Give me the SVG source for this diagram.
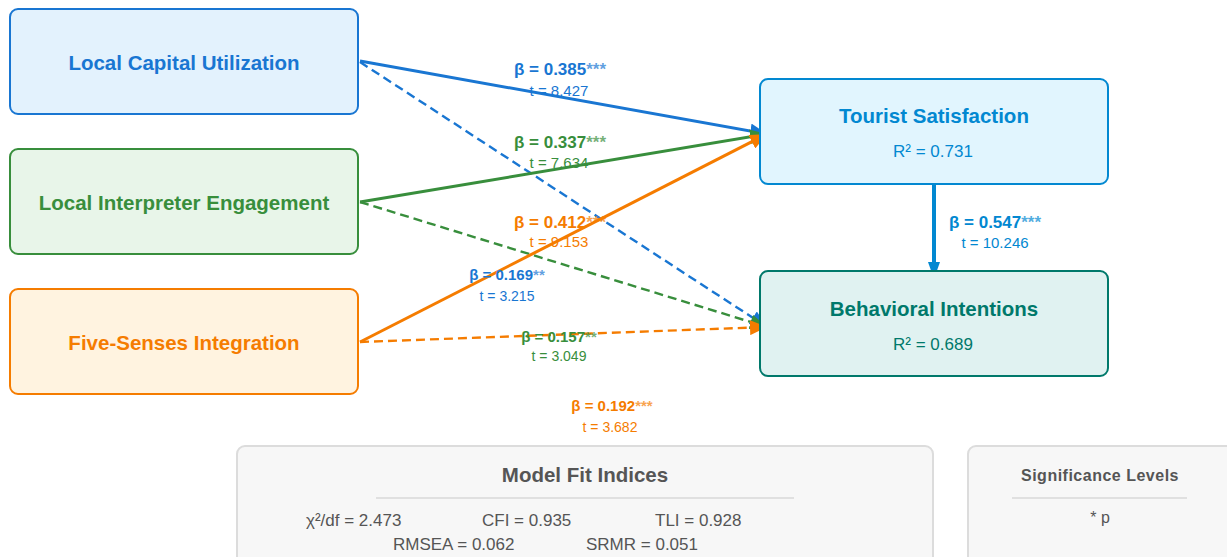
<svg xmlns="http://www.w3.org/2000/svg" width="1227" height="557" viewBox="0 0 1227 557">
<defs>
<style>
text{font-family:"Liberation Sans",Arial,Helvetica,sans-serif}
.node{stroke-width:2}
.title{font-size:20.5px;font-weight:bold;text-anchor:middle}
.r2{font-size:17px;text-anchor:middle}
.b17{font-size:17px;font-weight:bold;text-anchor:middle}
.t15{font-size:15px;text-anchor:middle}
.b15{font-size:15px;font-weight:bold;text-anchor:middle}
.t14{font-size:14px;text-anchor:middle}
.st{fill-opacity:0.7}
.solid{fill:none;stroke-width:3}
.dash{fill:none;stroke-width:2.4;stroke-dasharray:9 5}
.blue{stroke:#1976d2}.green{stroke:#388e3c}.orange{stroke:#f57c00}
.fit{font-size:17px;fill:#555}
</style>
<marker id="ab" markerUnits="userSpaceOnUse" markerWidth="17" markerHeight="15" refX="17" refY="7.5" orient="auto"><path d="M0,0 L17,7.5 L0,15 z" fill="#1976d2"/></marker>
<marker id="ag" markerUnits="userSpaceOnUse" markerWidth="17" markerHeight="15" refX="17" refY="7.5" orient="auto"><path d="M0,0 L17,7.5 L0,15 z" fill="#388e3c"/></marker>
<marker id="ao" markerUnits="userSpaceOnUse" markerWidth="17" markerHeight="15" refX="17" refY="7.5" orient="auto"><path d="M0,0 L17,7.5 L0,15 z" fill="#f57c00"/></marker>
<marker id="at" markerUnits="userSpaceOnUse" markerWidth="17" markerHeight="12" refX="17" refY="6" orient="auto"><path d="M0,0 L17,6 L0,12 z" fill="#0288d1"/></marker>
</defs>
<rect width="1227" height="557" fill="#ffffff"/>

<g id="connectors">
<line class="dash blue" x1="360" y1="62" x2="767" y2="327" marker-end="url(#ab)"/>
<line class="dash green" x1="360" y1="202" x2="767" y2="327" marker-end="url(#ag)"/>
<line class="solid blue" x1="360" y1="61" x2="767" y2="134" marker-end="url(#ab)"/>
<line class="solid green" x1="360" y1="202" x2="767" y2="134" marker-end="url(#ag)"/>
<line class="dash orange" x1="360" y1="342" x2="767" y2="327" marker-end="url(#ao)"/>
<line class="solid orange" x1="360" y1="342" x2="767" y2="134" marker-end="url(#ao)"/>
<line x1="934" y1="185" x2="934" y2="279" stroke="#0288d1" stroke-width="4" marker-end="url(#at)"/>
</g>

<g id="labels">
<text class="b17" x="560" y="75" fill="#1976d2">β = 0.385<tspan class="st">***</tspan></text>
<text class="t15" x="559" y="96" fill="#1976d2">t = 8.427</text>
<text class="b17" x="560" y="148" fill="#388e3c">β = 0.337<tspan class="st">***</tspan></text>
<text class="t15" x="559" y="168" fill="#388e3c">t = 7.634</text>
<text class="b17" x="560" y="228" fill="#f57c00">β = 0.412<tspan class="st">***</tspan></text>
<text class="t15" x="559" y="247" fill="#f57c00">t = 9.153</text>
<text class="b15" x="507" y="280" fill="#1976d2">β = 0.169<tspan class="st">**</tspan></text>
<text class="t14" x="507" y="301" fill="#1976d2">t = 3.215</text>
<text class="b15" x="559" y="342" fill="#388e3c">β = 0.157<tspan class="st">**</tspan></text>
<text class="t14" x="559" y="361" fill="#388e3c">t = 3.049</text>
<text class="b15" x="612" y="411" fill="#f57c00">β = 0.192<tspan class="st">***</tspan></text>
<text class="t14" x="610" y="432" fill="#f57c00">t = 3.682</text>
<text class="b17" x="995" y="228" fill="#0288d1">β = 0.547<tspan class="st">***</tspan></text>
<text class="t15" x="995" y="248" fill="#0288d1">t = 10.246</text>
</g>

<g id="lcu">
<rect class="node" x="10" y="9" width="348" height="105" rx="8" fill="#e3f2fd" stroke="#1976d2"/>
<text class="title" x="184" y="70" fill="#1976d2">Local Capital Utilization</text>
</g>
<g id="lie">
<rect class="node" x="10" y="149" width="348" height="105" rx="8" fill="#e8f5e9" stroke="#388e3c"/>
<text class="title" x="184" y="210" fill="#388e3c">Local Interpreter Engagement</text>
</g>
<g id="fsi">
<rect class="node" x="10" y="289" width="348" height="105" rx="8" fill="#fff3e0" stroke="#f57c00"/>
<text class="title" x="184" y="350" fill="#f57c00">Five-Senses Integration</text>
</g>
<g id="ts">
<rect class="node" x="760" y="79" width="348" height="105" rx="8" fill="#e1f5fe" stroke="#0288d1"/>
<text class="title" x="934" y="123" fill="#0288d1">Tourist Satisfaction</text>
<text class="r2" x="933" y="157" fill="#0288d1">R² = 0.731</text>
</g>
<g id="bi">
<rect class="node" x="760" y="271" width="348" height="105" rx="8" fill="#e0f2f1" stroke="#00796b"/>
<text class="title" x="934" y="316" fill="#00796b">Behavioral Intentions</text>
<text class="r2" x="933" y="350" fill="#00796b">R² = 0.689</text>
</g>

<g id="model-fit">
<rect x="237" y="446" width="696" height="130" rx="8" fill="#f7f7f7" stroke="#dcdcdc" stroke-width="2"/>
<text x="585" y="482" font-size="20.5" font-weight="bold" fill="#555" text-anchor="middle">Model Fit Indices</text>
<line x1="376" y1="498" x2="794" y2="498" stroke="#e0e0e0" stroke-width="2"/>
<text class="fit" x="306" y="526">χ²/df = 2.473</text>
<text class="fit" x="482" y="526">CFI = 0.935</text>
<text class="fit" x="655" y="526">TLI = 0.928</text>
<text class="fit" x="393" y="550">RMSEA = 0.062</text>
<text class="fit" x="586" y="550">SRMR = 0.051</text>
</g>

<g id="significance">
<rect x="968" y="446" width="280" height="130" rx="8" fill="#f7f7f7" stroke="#dcdcdc" stroke-width="2"/>
<text x="1100" y="481" font-size="16" font-weight="bold" letter-spacing="0.5" fill="#555" text-anchor="middle">Significance Levels</text>
<line x1="1012" y1="498" x2="1187" y2="498" stroke="#e0e0e0" stroke-width="2"/>
<text x="1100" y="523" font-size="16" fill="#555" text-anchor="middle">* p</text>
</g>
</svg>
